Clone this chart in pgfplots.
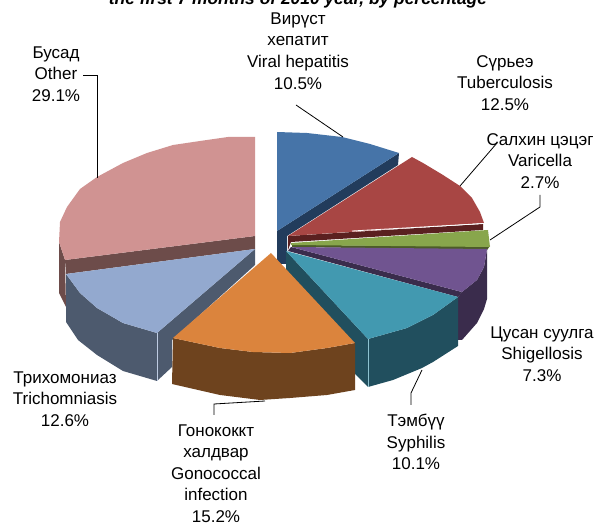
\documentclass[border=0pt]{standalone}
\usepackage{fontspec}
\setmainfont{Liberation Sans}
\usepackage{pgfplots}
\pgfplotsset{compat=1.18}
\definecolor{bT}{HTML}{4674A8}\definecolor{bS}{HTML}{223C5C}
\definecolor{rT}{HTML}{A84644}\definecolor{rS}{HTML}{5A2020}
\definecolor{gT}{HTML}{88A64C}\definecolor{gS}{HTML}{4C5C28}
\definecolor{pT}{HTML}{705490}\definecolor{pS}{HTML}{3A2C4C}
\definecolor{tT}{HTML}{4299B0}\definecolor{tS}{HTML}{214F5E}
\definecolor{oT}{HTML}{DB843D}\definecolor{oS}{HTML}{6E431E}
\definecolor{lT}{HTML}{93A9CF}\definecolor{lS}{HTML}{4D5A6E}
\definecolor{kT}{HTML}{D09392}\definecolor{kS}{HTML}{6D4C4A}
\tikzset{lab/.style={align=center,font=\fontsize{17}{21.6}\selectfont,text=black,inner sep=0pt}}
\pgfplotsset{shape/.style={fill=#1,draw=none,forget plot,mark=none},
 lead/.style={draw=black,line width=0.8pt,forget plot,mark=none}}
\begin{document}
\begin{tikzpicture}
\path[use as bounding box] (0,0) rectangle (598pt,526pt);
\begin{axis}[at={(0,0)},anchor=south west,scale only axis,width=598pt,height=526pt,
 xmin=0,xmax=598,ymin=0,ymax=526,y dir=reverse,hide axis,clip=false]
% pink
\addplot[shape=kS] coordinates {(59,242)(65,260)(66,307)(59,293)(59,242)};
\addplot[shape=kS] coordinates {(65,260)(255,236)(255,249)(66,274)(65,260)};
\addplot[shape=kT] coordinates {(255,236)(255,137)(228,137)(200,141)(173,145)(147,153)(123,163)(97,177)(80,189)(67,207)(60,222)(59,242)(65,260)(255,236)};
% blue
\addplot[shape=bS] coordinates {(277,231)(399,153)(398,165)(287,236)(287,264)(277,264)(277,231)};
\addplot[shape=bT] coordinates {(277,132)(307,133)(342,137)(370,144)(399,153)(277,231)(277,132)};
% red
\addplot[shape=rS] coordinates {(288,236)(483,224)(483,230)(291,242)(288,250)(288,236)};
\addplot[shape=rT] coordinates {(288,236)(412,157)(423,163)(443,175)(460,186)(472,198)(480,212)(484,223)(288,236)};
% green
\addplot[shape=gS] coordinates {(292,245)(490,246)(487,250)(292,247)(292,245)};
\addplot[shape=gT] coordinates {(291,243)(488,230)(490,247)(291,245)(291,243)};
% purple
\addplot[shape=pS] coordinates {(487,249)(484,267)(477,280)(462,292)(458,297)(458,340)(462,340)(477,323)(484,309)(487,299)(487,249)};
\addplot[shape=pS] coordinates {(291,247)(462,292)(458,297)(288,251)(291,247)};
\addplot[shape=pT] coordinates {(291,247)(487,249)(484,267)(477,280)(462,292)(291,247)};
% teal
\addplot[shape=tS] coordinates {(368,339)(407,328)(433,315)(458,297)(458,346)(433,362)(422,368)(393,380)(368,387)(368,339)};
\addplot[shape=tS] coordinates {(286,251)(368,339)(368,387)(354,373)(354,343)(286,270)(286,251)};
\addplot[shape=tT] coordinates {(286,251)(458,297)(433,315)(407,328)(368,339)(286,251)};
% light blue
\addplot[shape=lS] coordinates {(157,333)(255,249)(255,265)(172,340)(172,367)(157,381)(157,333)};
\addplot[shape=lS] coordinates {(66,274)(80,293)(97,308)(123,323)(157,333)(157,381)(123,371)(97,355)(78,340)(66,322)(66,274)};
\addplot[shape=lT] coordinates {(255,249)(66,274)(80,293)(97,308)(123,323)(157,333)(255,249)};
% orange
\addplot[shape=oS] coordinates {(173,338)(220,348)(253,352)(290,353)(327,348)(355,343)(355,390)(327,395)(290,398)(260,400)(220,395)(172,384)(173,338)};
\addplot[shape=oT] coordinates {(271,253)(355,343)(327,348)(290,353)(253,352)(220,348)(173,338)(271,253)};
% seams
\addplot[draw=tT!60,line width=0.4pt,forget plot] coordinates {(368,339)(368,387)};
\addplot[draw=lT!60,line width=0.4pt,forget plot] coordinates {(157,333)(157,381)};
\addplot[draw=white,line width=0.8pt,forget plot] coordinates {(352,231)(484,223.5)};
% leaders
\addplot[lead] coordinates {(296,105)(343,137)};
\addplot[lead] coordinates {(460,186)(497,143)};
\addplot[lead] coordinates {(490,240)(540,207)(540,195)};
\addplot[lead] coordinates {(422,370)(411,393)(411,405)};
\addplot[lead] coordinates {(265,401)(214,404)(214,415)};
\addplot[lead] coordinates {(97,178)(97,75)(83,75)};
% labels
\node[lab] at (axis cs:298,51) {Вирүст\\хепатит\\Viral hepatitis\\10.5\%};
\node[lab] at (axis cs:505,83) {Сүрьеэ\\Tuberculosis\\12.5\%};
\node[lab] at (axis cs:540,161) {Салхин цэцэг\\Varicella\\2.7\%};
\node[lab] at (axis cs:542,354) {Цусан суулга\\Shigellosis\\7.3\%};
\node[lab] at (axis cs:416,442) {Тэмбүү\\Syphilis\\10.1\%};
\node[lab] at (axis cs:216,473.5) {Гонококкт\\халдвар\\Gonococcal\\infection\\15.2\%};
\node[lab] at (axis cs:65,399) {Трихомониаз\\Trichomniasis\\12.6\%};
\node[lab] at (axis cs:56,74) {Бусад\\Other\\29.1\%};
\node[anchor=base,inner sep=0pt,font=\fontsize{17.4}{20}\selectfont\bfseries\itshape] at (axis cs:298,5) {the first 7 months of 2010 year, by percentage};
\end{axis}
\end{tikzpicture}
\end{document}
